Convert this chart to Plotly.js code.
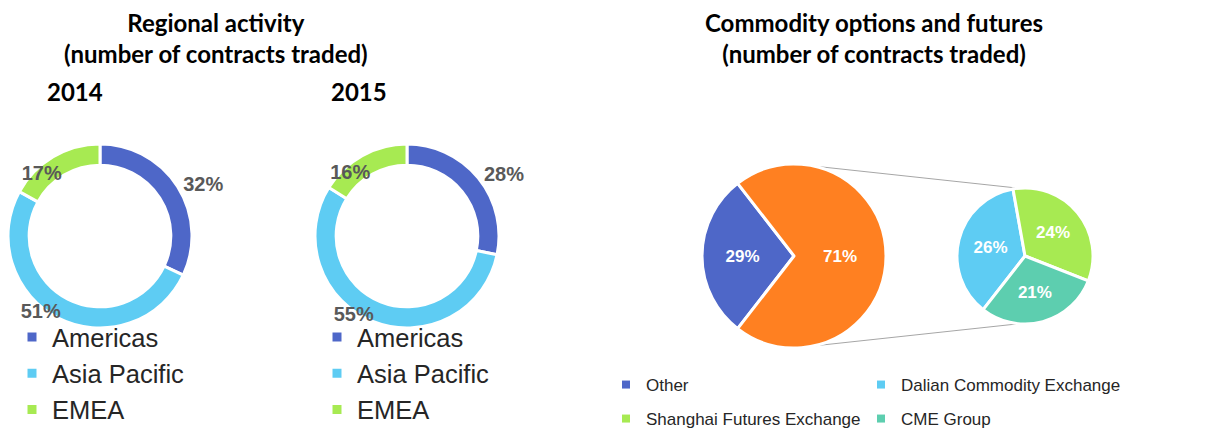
<!DOCTYPE html>
<html><head><meta charset="utf-8">
<script src="https://cdn.plot.ly/plotly-3.0.1.min.js"></script>
<style>html,body{margin:0;padding:0;background:#fff}#chart{width:1218px;height:428px}</style>
</head><body><div id="chart"></div>
<script>
// ---- data ----
const regions = ['Americas', 'Asia Pacific', 'EMEA'];
const share2014 = [32, 51, 17];
const share2015 = [28, 55, 16];
const otherLabel = 'Other';
const otherShare = 29;
const exchanges = ['Dalian Commodity Exchange', 'Shanghai Futures Exchange', 'CME Group'];
const exchangeShares = [26, 24, 21];
const yearLabels = ['2014', '2015'];

// ---- styles ----
const regionColors = ['#4E67C8', '#5ECCF3', '#A7EA52'];
const otherColor = '#4E67C8';
const topColor = '#FF8021';
const exchangeColors = ['#5ECCF3', '#A7EA52', '#5DCEAF'];

const W = 1218, H = 428;
const fx = x => x / W;
const fy = y => 1 - y / H;
function dom(cx, cy, r) { return {x: [fx(cx - r), fx(cx + r)], y: [fy(cy + r), fy(cy - r)]}; }

const donut1 = {cx: 100, cy: 236, r: 92};
const donut2 = {cx: 407, cy: 236, r: 92};
const mainPie = {cx: 794, cy: 256, r: 92};
const subPie = {cx: 1025, cy: 256, r: 68};
const labelRadii = [92, 74, 64];   // per-slice radius of the transparent label guides (style)

const labelFont = {family: 'Liberation Sans, Arial', size: 20, color: '#595959', weight: 'bold'};
const whiteFont = {family: 'Liberation Sans, Arial', size: 17, color: '#FFFFFF', weight: 'bold'};

const topSum = exchangeShares.reduce((a, b) => a + b, 0);

function donut(vals, d, legendId, group) {
  return {
    type: 'pie', labels: regions, values: vals, hole: 0.77, sort: false,
    direction: 'clockwise', rotation: 0, domain: dom(d.cx, d.cy, d.r),
    marker: {colors: regionColors, line: {color: '#FFFFFF', width: 3}},
    textinfo: 'none', hoverinfo: 'label+value', legend: legendId, legendgroup: group, automargin: false
  };
}
function donutLabels(vals, d) {
  return labelRadii.map((r, k) => ({
    type: 'pie', labels: regions, values: vals, sort: false,
    direction: 'clockwise', rotation: 0, domain: dom(d.cx, d.cy, r),
    marker: {colors: regions.map(() => 'rgba(0,0,0,0)'), line: {width: 0}},
    texttemplate: '%{value}%', textposition: regions.map((_, i) => i === k ? 'outside' : 'none'),
    outsidetextfont: labelFont, textfont: labelFont, hoverinfo: 'skip', showlegend: false, automargin: false
  }));
}

const comLabels = [otherLabel].concat(exchanges);
const comColors = [otherColor].concat(exchangeColors);
const comLegendIds = ['legend3', 'legend3', 'legend4', 'legend4'];
const comLegendWidths = [210, 240, 210, 240];

const data = [
  donut(share2014, donut1, 'legend', 'g2014'),
  donut(share2015, donut2, 'legend2', 'g2015')
].concat(donutLabels(share2014, donut1), donutLabels(share2015, donut2), [
  {
    type: 'pie', labels: [otherLabel, 'Top exchanges'], values: [otherShare, topSum],
    sort: false, direction: 'clockwise', rotation: 270 - otherShare / (otherShare + topSum) * 180,
    domain: dom(mainPie.cx, mainPie.cy, mainPie.r),
    marker: {colors: [otherColor, topColor], line: {color: '#FFFFFF', width: 3}},
    textinfo: 'percent', textposition: 'inside', insidetextorientation: 'horizontal',
    textfont: whiteFont, showlegend: false
  },
  {
    type: 'pie', labels: exchanges, values: exchangeShares,
    sort: false, direction: 'clockwise', rotation: 218,
    domain: dom(subPie.cx, subPie.cy, subPie.r),
    marker: {colors: exchangeColors, line: {color: '#FFFFFF', width: 3}},
    texttemplate: '%{value}%', textposition: 'inside',
    insidetextorientation: 'horizontal', textfont: whiteFont, showlegend: false
  }
]).concat(comLabels.map((name, i) => ({
  type: 'scatter', mode: 'markers', x: [null], y: [null], name: name,
  marker: {symbol: 'square', size: 8, color: comColors[i]},
  legend: comLegendIds[i], legendwidth: comLegendWidths[i], showlegend: true, hoverinfo: 'skip'
})));

// connector lines between pies
function pt(p, deg) {
  const a = deg * Math.PI / 180;
  return [fx(p.cx + p.r * Math.sin(a)), fy(p.cy - p.r * Math.cos(a))];
}
const u1 = pt(mainPie, 12), u2 = pt(subPie, -5), l1 = pt(mainPie, 168), l2 = pt(subPie, 185);
const shapes = [
  {type: 'line', xref: 'paper', yref: 'paper', x0: u1[0], y0: u1[1], x1: u2[0], y1: u2[1], line: {color: '#A6A6A6', width: 1}, layer: 'below'},
  {type: 'line', xref: 'paper', yref: 'paper', x0: l1[0], y0: l1[1], x1: l2[0], y1: l2[1], line: {color: '#A6A6A6', width: 1}, layer: 'below'}
];

const titleFont = {family: 'Lato, Open Sans, sans-serif', size: 24, color: '#000000', weight: 'bold'};
const annotations = [
  {text: 'Regional activity<br>(number of contracts traded)', x: fx(216), y: fy(6), xref: 'paper', yref: 'paper', xanchor: 'center', yanchor: 'top', showarrow: false, font: titleFont},
  {text: 'Commodity options and futures<br>(number of contracts traded)', x: fx(874), y: fy(6), xref: 'paper', yref: 'paper', xanchor: 'center', yanchor: 'top', showarrow: false, font: titleFont},
  {text: yearLabels[0], x: fx(45), y: fy(91), xref: 'paper', yref: 'paper', xanchor: 'left', yanchor: 'middle', showarrow: false, font: titleFont},
  {text: yearLabels[1], x: fx(329), y: fy(91), xref: 'paper', yref: 'paper', xanchor: 'left', yanchor: 'middle', showarrow: false, font: titleFont}
];

const legFont = {family: 'Liberation Sans, Arial', size: 25.5, color: '#262626'};
const comFont = {family: 'Liberation Sans, Arial', size: 17, color: '#262626'};
const layout = {
  width: W, height: H, margin: {l: 0, r: 0, t: 0, b: 0, autoexpand: false},
  paper_bgcolor: '#FFFFFF', plot_bgcolor: '#FFFFFF',
  xaxis: {visible: false}, yaxis: {visible: false},
  annotations: annotations, shapes: shapes, showlegend: true,
  legend: {x: fx(12), y: fy(314), xanchor: 'left', yanchor: 'top', font: legFont, bgcolor: 'rgba(0,0,0,0)', tracegroupgap: 0},
  legend2: {x: fx(317), y: fy(314), xanchor: 'left', yanchor: 'top', font: legFont, bgcolor: 'rgba(0,0,0,0)', tracegroupgap: 0},
  legend3: {x: fx(606), y: fy(367), xanchor: 'left', yanchor: 'top', orientation: 'h', traceorder: 'normal', font: comFont, bgcolor: 'rgba(0,0,0,0)'},
  legend4: {x: fx(606), y: fy(401), xanchor: 'left', yanchor: 'top', orientation: 'h', traceorder: 'normal', font: comFont, bgcolor: 'rgba(0,0,0,0)'}
};

Plotly.newPlot('chart', data, layout, {staticPlot: true, displayModeBar: false});
</script>
</body></html>
